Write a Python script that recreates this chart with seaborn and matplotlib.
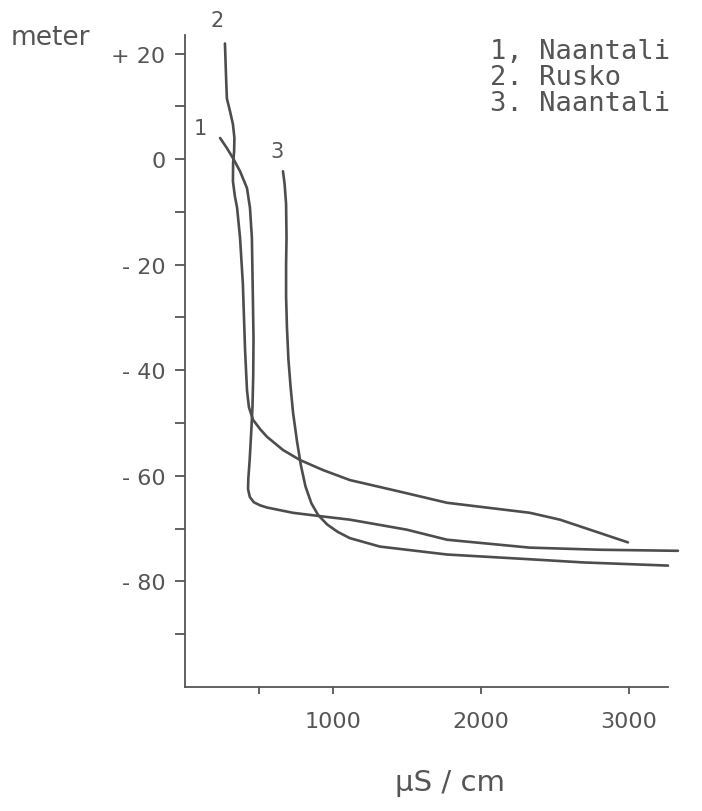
import numpy as np
import pandas as pd
import matplotlib
matplotlib.use("Agg")
import matplotlib.pyplot as plt
import seaborn as sns

# conductivity (uS/cm) versus level (meter)
naantali1_x = [237, 283, 324, 372, 419, 439, 452, 459, 463, 461, 456, 447, 437, 428, 426, 438,
               465, 509, 554, 729, 932, 1114, 1499, 1770, 2330, 2804, 3330]
naantali1_y = [4.0, 2.1, 0.2, -2.3, -5.5, -9.2, -14.9, -26.8, -34.0, -41.0, -47.0, -52.0,
               -57.0, -60.5, -62.5, -64.0, -65.0, -65.6, -66.0, -67.0, -67.7, -68.3, -70.2,
               -72.1, -73.6, -74.0, -74.2]

rusko_x = [270, 277, 283, 304, 324, 334, 332, 325, 324, 337, 352, 372, 391, 406, 419, 432,
           460, 509, 554, 662, 777, 932, 1114, 1453, 1770, 2330, 2533, 2736, 2992]
rusko_y = [21.9, 16.0, 11.5, 9.1, 6.6, 4.0, 1.5, -0.8, -4.2, -7.0, -9.2, -14.9, -23.6, -36.2,
           -43.8, -47.0, -49.4, -51.2, -52.6, -55.1, -57.0, -58.9, -60.8, -63.0, -65.1, -67.0,
           -68.3, -70.2, -72.6]

naantali3_x = [662, 673, 683, 686, 683, 683, 689, 699, 713, 730, 757, 783, 814, 854, 899, 960,
               1031, 1114, 1317, 1770, 2330, 2689, 3263]
naantali3_y = [-2.3, -4.7, -8.5, -14.9, -20.0, -26.0, -32.0, -38.0, -43.0, -48.0, -53.5, -58.0,
               -62.0, -65.2, -67.4, -69.2, -70.6, -71.8, -73.4, -74.9, -75.8, -76.4, -77.0]

legend_lines = ["1, Naantali", "2. Rusko", "3. Naantali"]
y_major = [-80, -60, -40, -20, 0, 20]
y_major_labels = ["- 80", "- 60", "- 40", "- 20", "0", "+ 20"]
y_minor = [-90, -70, -50, -30, -10, 10]
x_ticks = [500, 1000, 2000, 3000]
x_tick_labels = ["", "1000", "2000", "3000"]

ink = "#555555"
sns.set_style("white")
plt.rcParams["font.family"] = ["DejaVu Sans"]

fig = plt.figure(figsize=(7.02, 8.12), dpi=100)
ax = fig.add_axes([0.2635, 0.1527, 0.7123, 0.8094])

curves = [(naantali1_x, naantali1_y), (rusko_x, rusko_y), (naantali3_x, naantali3_y)]
for xs, ys in curves:
    df = pd.DataFrame({"x": xs, "y": ys})
    sns.lineplot(data=df, x="x", y="y", sort=False, estimator=None, ax=ax,
                 color="#4d4d4d", linewidth=1.9)
    ax.lines[-1].set_solid_capstyle("round")
    ax.lines[-1].set_solid_joinstyle("round")

# curve numbers next to the start of each curve
ax.text(101, 4.0, "1", color=ink, fontsize=15, ha="center", va="bottom")
ax.text(216, 24.5, "2", color=ink, fontsize=15, ha="center", va="bottom")
ax.text(622, -0.3, "3", color=ink, fontsize=15, ha="center", va="bottom")

# stencil-style lettering is close to monospaced
for i, line in enumerate(legend_lines):
    ax.text(2061, 20.5 - i * 4.9, line, color=ink, fontsize=19.5, ha="left", va="center",
            family=["DejaVu Sans Mono"])

ax.set_xlim(0, 3378)
ax.set_ylim(-100, 24.5)
ax.spines["top"].set_visible(False)
ax.spines["right"].set_visible(False)
ax.spines["left"].set_bounds(-100, 23.6)
ax.spines["bottom"].set_bounds(0, 3264)
for s in ["left", "bottom"]:
    ax.spines[s].set_color(ink)
    ax.spines[s].set_linewidth(1.3)

ax.set_yticks(y_major)
ax.set_yticklabels(y_major_labels)
ax.set_yticks(y_minor, minor=True)
ax.set_xticks(x_ticks)
ax.set_xticklabels(x_tick_labels)
ax.tick_params(axis="y", which="both", direction="out", length=7, width=1.3, color=ink,
               labelcolor=ink, labelsize=16, pad=7, left=True)
ax.tick_params(axis="x", which="both", direction="out", length=5, width=1.3, color=ink,
               labelcolor=ink, labelsize=16, pad=12, bottom=True)

ax.set_xlabel("")
ax.set_ylabel("")
fig.text(450 / 702, 1 - 783 / 812, "\u03bcS / cm", color=ink, fontsize=21, ha="center", va="center")
fig.text(50 / 702, 1 - 38 / 812, "meter", color=ink, fontsize=19, ha="center", va="center")

fig.savefig("out.png", dpi=100)
